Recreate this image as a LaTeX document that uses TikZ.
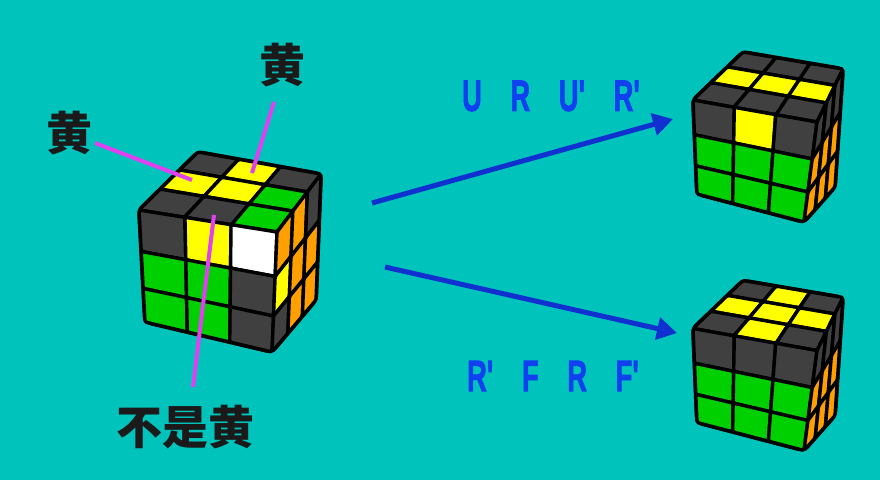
\documentclass[tikz,border=0pt]{standalone}
\usepackage{fontspec}
\usepackage{graphicx}
\usetikzlibrary{calc,arrows.meta}
\newfontfamily\cjk{Noto Sans CJK SC}
\newfontfamily\latf[BoldFeatures={FakeBold=2}]{Liberation Sans}
\definecolor{bgc}{RGB}{0,196,188}
\definecolor{dk}{RGB}{64,64,64}
\definecolor{yl}{RGB}{255,255,0}
\definecolor{gn}{RGB}{0,208,0}
\definecolor{og}{RGB}{255,160,0}
\definecolor{wh}{RGB}{255,255,255}
\definecolor{mg}{RGB}{224,64,240}
\definecolor{arr}{RGB}{16,48,208}
\definecolor{mvc}{RGB}{16,64,240}
\definecolor{ink}{RGB}{26,26,26}
\tikzset{
 stick/.style={draw=black,line width=3.4pt,line join=round,rounded corners=1.5pt},
 body/.style={fill=black,draw=black,line width=4pt,line join=round,rounded corners=5pt},
 pointer/.style={draw=mg,line width=4pt},
 movearrow/.style={draw=arr,line width=5pt,-{Triangle[length=20pt,width=22pt]}},
 cjklab/.style={text=ink,font=\cjk\bfseries\fontsize{46}{46}\selectfont,inner sep=0pt,anchor=base},
 movelab/.style={text=mvc,font=\latf\bfseries\fontsize{44}{44}\selectfont,inner sep=0pt},
}
\newcommand\bilpt[3]{%
  \coordinate (tmpA) at ($(fO)!#2!(fU)$);
  \coordinate (tmpB) at ($(fV)!#2!(fW)$);
  \coordinate (#1) at ($(tmpA)!#3!(tmpB)$);}
\newcommand\drawface[7]{%
  \coordinate (fO) at (#1); \coordinate (fU) at (#2);
  \coordinate (fV) at (#3); \coordinate (fW) at (#4);
  \foreach \cc [count=\nn from 0] in {#7} {
    \pgfmathtruncatemacro\ci{mod(\nn,3)}
    \pgfmathtruncatemacro\ri{div(\nn,3)}
    \pgfmathsetmacro\ua{{#5}[\ci]}
    \pgfmathsetmacro\ub{{#5}[\ci+1]}
    \pgfmathsetmacro\va{{#6}[\ri]}
    \pgfmathsetmacro\vb{{#6}[\ri+1]}
    \bilpt{qa}{\ua}{\va}\bilpt{qb}{\ub}{\va}\bilpt{qc}{\ub}{\vb}\bilpt{qd}{\ua}{\vb}
    \filldraw[stick,fill=\cc] (qa) -- (qb) -- (qc) -- (qd) -- cycle;
  }}
\newcommand\rcube[4]{%
  \filldraw[body] (#1TBL) -- (#1TBR) -- (#1BBR) -- (#1BFR) -- (#1BFL) -- (#1TFL) -- cycle;
  \drawface{#1TBL}{#1TBR}{#1TFL}{#1TFR}{0,0.33,0.67,1}{0,0.31,0.64,1}{#2}
  \drawface{#1TFL}{#1TFR}{#1BFL}{#1BFR}{0,0.333,0.667,1}{0,0.37,0.70,1}{#3}
  \drawface{#1TFR}{#1TBR}{#1BFR}{#1BBR}{0,0.36,0.69,1}{0,0.37,0.70,1}{#4}}
\begin{document}
\begin{tikzpicture}[x=1pt,y=-1pt]
\fill[bgc] (0,0) rectangle (880,480);
\useasboundingbox (0,0) rectangle (880,480);
% left cube corners
\coordinate (LTBL) at (198,152); \coordinate (LTBR) at (321,174);
\coordinate (LTFL) at (139,210); \coordinate (LTFR) at (277,232);
\coordinate (LBFL) at (145,322); \coordinate (LBFR) at (272,352);
\coordinate (LBBR) at (316,300);
% right top cube
\coordinate (ATBL) at (743,52); \coordinate (ATBR) at (843,69);
\coordinate (ATFL) at (693,100); \coordinate (ATFR) at (817,122);
\coordinate (ABFL) at (697,194); \coordinate (ABFR) at (804,222);
\coordinate (ABBR) at (835,187);
% right bottom cube
\coordinate (BTBL) at (743,280.5); \coordinate (BTBR) at (843,297.5);
\coordinate (BTFL) at (693,328.5); \coordinate (BTFR) at (817,350.5);
\coordinate (BBFL) at (697,422.5); \coordinate (BBFR) at (804,450.5);
\coordinate (BBBR) at (835,415.5);
\rcube{L}{dk,yl,dk,yl,yl,gn,dk,dk,gn}{dk,yl,wh,gn,gn,dk,gn,gn,dk}{og,og,dk,yl,og,og,dk,og,og}
\rcube{A}{dk,dk,dk,yl,yl,yl,dk,dk,dk}{dk,yl,dk,gn,gn,gn,gn,gn,gn}{dk,dk,dk,og,og,og,og,og,og}
\rcube{B}{dk,yl,dk,yl,yl,yl,dk,yl,dk}{dk,dk,dk,gn,gn,gn,gn,gn,gn}{dk,dk,dk,og,og,og,og,og,og}
% labels
\node[cjklab] (y1) at (69,150) {黄};
\node[cjklab] (y2) at (282.5,82.5) {黄};
\node[cjklab] (ny) at (185.5,444) {不是黄};
% pointer lines
\coordinate (p1a) at (95,143); \coordinate (p1b) at (192,180);
\coordinate (p2a) at (274,102); \coordinate (p2b) at (252,173);
\coordinate (p3a) at (214,215); \coordinate (p3b) at (193,387);
\draw[pointer] (p1a) -- (p1b);
\draw[pointer] (p2a) -- (p2b);
\draw[pointer] (p3a) -- (p3b);
% arrows
\coordinate (a1s) at (372,203); \coordinate (a1e) at (673,119);
\coordinate (a2s) at (385,267); \coordinate (a2e) at (677,333);
\draw[movearrow] (a1s) -- (a1e);
\draw[movearrow] (a2s) -- (a2e);
\node[movelab] (m1) at (551,96) {\scalebox{0.62}[1]{U\hspace{1.05em}R\hspace{1.05em}U'\hspace{1.05em}R'}};
\node[movelab] (m2) at (553,376) {\scalebox{0.62}[1]{R'\hspace{1.05em}F\hspace{1.05em}R\hspace{1.05em}F'}};
\end{tikzpicture}
\end{document}
